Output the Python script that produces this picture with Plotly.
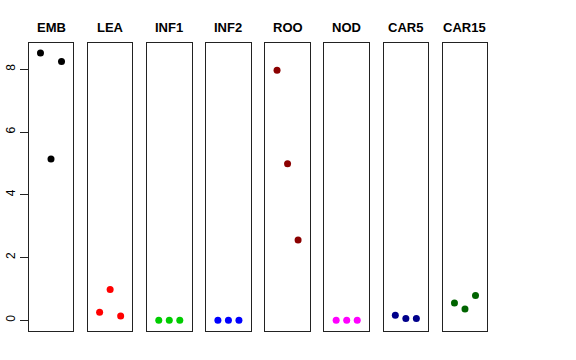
import plotly.graph_objects as go

W, H = 576, 360
panels = ["EMB", "LEA", "INF1", "INF2", "ROO", "NOD", "CAR5", "CAR15"]
colors = ["#000000", "#FF0000", "#00CD00", "#0000FF", "#8B0000", "#FF00FF", "#00008B", "#006400"]
x_pos = [1, 2, 3]
EMB = [8.52, 5.14, 8.25]
LEA = [0.26, 0.98, 0.14]
INF1 = [0.0, 0.0, 0.0]
INF2 = [0.0, 0.0, 0.0]
ROO = [7.97, 4.99, 2.56]
NOD = [0.0, 0.0, 0.0]
CAR5 = [0.16, 0.06, 0.06]
CAR15 = [0.55, 0.36, 0.79]
values = [EMB, LEA, INF1, INF2, ROO, NOD, CAR5, CAR15]
y_ticks = [0, 2, 4, 6, 8]

fig = go.Figure()
left0, step, pw = 28.7, 59.14, 44.6
top, bottom = 43, 331
yrange = [(320.3 - bottom) / 31.375, (320.3 - top) / 31.375]

layout = dict(
    width=W, height=H, margin=dict(l=0, r=0, t=0, b=0),
    paper_bgcolor="white", plot_bgcolor="white", showlegend=False,
    font=dict(family="Liberation Sans, Arial, sans-serif", color="black"),
)
annotations = []
for i, (name, col, vals) in enumerate(zip(panels, colors, values)):
    idx = "" if i == 0 else str(i + 1)
    xl = left0 + i * step
    fig.add_trace(go.Scatter(
        x=x_pos, y=vals, mode="markers",
        marker=dict(color=col, size=7),
        xaxis="x" + idx, yaxis="y" + idx, hoverinfo="skip",
    ))
    layout["xaxis" + idx] = dict(
        domain=[xl / W, (xl + pw) / W], range=[-0.12, 4.12],
        showticklabels=False, ticks="", showgrid=False, zeroline=False,
        showline=True, mirror=True, linecolor="#222", linewidth=1,
        anchor="y" + idx, fixedrange=True,
    )
    ya = dict(
        domain=[1 - bottom / H, 1 - top / H], range=yrange,
        showgrid=False, zeroline=False,
        showline=True, mirror=True, linecolor="#222", linewidth=1,
        anchor="x" + idx, fixedrange=True,
    )
    if i == 0:
        ya.update(tickvals=y_ticks, ticktext=[str(t) for t in y_ticks],
                  ticks="outside", ticklen=8, tickcolor="#222",
                  tickangle=-90, tickfont=dict(size=12, color="black"),
                  automargin=False)
    else:
        ya.update(showticklabels=False, ticks="")
    layout["yaxis" + idx] = ya
    annotations.append(dict(
        text="<b>" + name + "</b>", x=(xl + pw / 2) / W, y=1 - 28 / H,
        xref="paper", yref="paper", xanchor="center", yanchor="middle",
        showarrow=False, font=dict(size=13, color="black"),
    ))
layout["annotations"] = annotations
fig.update_layout(**layout)
fig.write_html("out.html", config={"displayModeBar": False},
               post_script="document.body.style.margin='0';document.body.style.overflow='hidden';")
